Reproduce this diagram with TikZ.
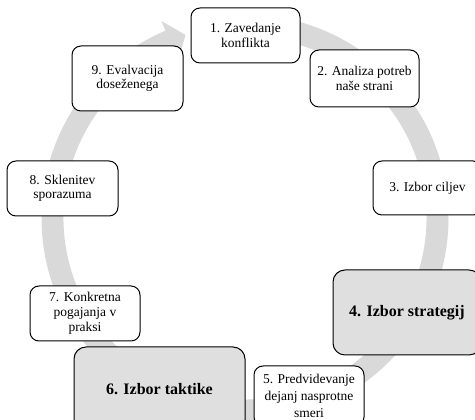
\documentclass[tikz,border=0pt]{standalone}
\usepackage{fontspec}
\setmainfont{Liberation Serif}
\usetikzlibrary{calc}
\definecolor{krogsiva}{HTML}{D9D9D9}
\definecolor{polnilo}{HTML}{DFDFDF}

\begin{document}
\begin{tikzpicture}[x=1pt, y=1pt,
    faza/.style={draw=black, line width=1pt, fill=white, rounded corners=9pt, align=center,
        inner sep=2pt, font=\fontsize{13.5}{14.5}\selectfont, minimum width=109pt, minimum height=55pt},
    poudarjena/.style={faza, fill=polnilo, rounded corners=12pt, font=\fontsize{16}{19}\selectfont\bfseries}]
    \clip (0,0) rectangle (475,420);

    % Krog s puščico okoli središča C
    \coordinate (C) at (245,202);
    \fill[krogsiva] ($(C)+(90:203.5)$) arc[start angle=90, end angle=-247, radius=203.5]
        -- ($(C)+(113:214)$) -- ($(C)+(108:192.5)$) -- ($(C)+(113:171)$)
        -- ($(C)+(113:181.5)$) arc[start angle=-247, end angle=90, radius=181.5] -- cycle;

    % Koraki pogajanj
    \node[faza] (k1) at (245.5,384.5) {1. Zavedanje\\konflikta};
    \node[faza, minimum height=57pt] (k2) at (364.5,341.5) {2. Analiza potreb\\naše strani};
    \node[faza, minimum height=54pt] (k3) at (427.5,232) {3. Izbor ciljev};
    \node[poudarjena, minimum width=148pt, minimum height=85pt] (k4) at (407,107.5) {4. Izbor strategij};
    \node[faza, minimum width=110pt, minimum height=60pt, font=\fontsize{13.5}{17}\selectfont] (k5) at (309,24) {5. Predvidevanje\\dejanj nasprotne\\smeri};
    \node[poudarjena, minimum width=171pt, minimum height=85pt] (k6) at (159.5,30.5) {6. Izbor taktike};
    \node[faza, minimum width=110pt, font=\fontsize{13.5}{15}\selectfont] (k7) at (85,106.5) {7. Konkretna\\pogajanja v\\praksi};
    \node[faza, minimum width=111pt] (k8) at (62.5,231.5) {8. Sklenitev\\sporazuma};
    \node[faza, minimum width=111pt, minimum height=65pt] (k9) at (127.5,341.5) {9. Evalvacija\\doseženega};
\end{tikzpicture}
\end{document}
